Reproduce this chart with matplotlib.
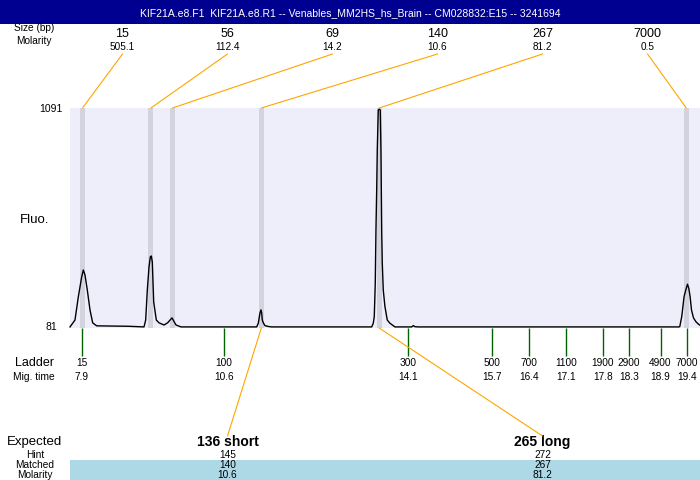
import matplotlib
matplotlib.use("Agg")
import matplotlib.pyplot as plt
from matplotlib.patches import ConnectionPatch, Rectangle
from matplotlib.transforms import blended_transform_factory

plt.rcParams['font.family'] = ['Liberation Sans', 'DejaVu Sans']

title = "KIF21A.e8.F1  KIF21A.e8.R1 -- Venables_MM2HS_hs_Brain -- CM028832:E15 -- 3241694"

# electropherogram trace (migration time, fluorescence)
trace_time = [7.672, 7.767, 7.830, 7.894, 7.925, 7.957, 8.001, 8.052, 8.103, 8.179, 8.78,
              9.079, 9.111, 9.142, 9.174, 9.199, 9.218, 9.237, 9.263, 9.313, 9.364, 9.459,
              9.528, 9.611, 9.687, 9.782,
              11.221, 11.252, 11.284, 11.303, 11.316, 11.328, 11.347, 11.379, 11.442, 11.506,
              13.408, 13.438, 13.457, 13.476, 13.489, 13.503, 13.514, 13.533, 13.552, 13.571,
              13.584, 13.598, 13.609, 13.628, 13.660, 13.704, 13.755, 13.851,
              14.168, 14.199, 14.231, 14.294,
              19.246, 19.265, 19.303, 19.347, 19.379, 19.412, 19.437, 19.462, 19.488, 19.526,
              19.570, 19.614, 19.65]
trace_fluo = [81, 113, 220, 313, 345, 322, 252, 160, 100, 86, 84,
              81, 113, 252, 359, 405, 410, 382, 197, 113, 100, 90,
              100, 123, 90, 81,
              81, 98, 146, 160, 146, 113, 100, 87, 83, 81,
              81, 98, 129, 283, 530, 716, 901, 1086, 1091, 1086,
              901, 530, 378, 252, 175, 113, 98, 81,
              81, 87, 82, 81,
              81, 82, 129, 221, 252, 279, 260, 221, 160, 123,
              106, 95, 89]

# called peaks
peak_size = [15, 56, 69, 140, 267, 7000]
peak_molarity = [505.1, 112.4, 14.2, 10.6, 81.2, 0.5]
peak_time = [7.91, 9.21, 9.62, 11.31, 13.55, 19.39]

# ladder
ladder_size = [15, 100, 300, 500, 700, 1100, 1900, 2900, 4900, 7000]
ladder_time = [7.9, 10.6, 14.1, 15.7, 16.4, 17.1, 17.8, 18.3, 18.9, 19.4]

# expected products
expected_name = ["136 short", "265 long"]
expected_hint = [145, 272]
matched_size = [140, 267]
matched_molarity = [10.6, 81.2]
matched_time = [11.31, 13.55]

fluo_ticks = [81, 1091]

fig = plt.figure(figsize=(7, 4.8), dpi=100)

# page layer in pixel units for the frame around the plot
page = fig.add_axes([0, 0, 1, 1])
page.set_xlim(0, 700)
page.set_ylim(480, 0)
page.axis('off')

ax = fig.add_axes([70 / 700, 1 - 328 / 480, 630 / 700, 220 / 480])
ax.set_facecolor('#eeeefb')
for sp in ax.spines.values():
    sp.set_visible(False)
ax.set_xlim(7.672, 19.65)
ax.set_ylim(76, 1096)
ax.set_xticks([])
ax.set_yticks([])

# header
page.add_patch(Rectangle((0, 0), 700, 24, color='#000090', lw=0))
page.text(350, 13, title, color='white', fontsize=7.5, ha='center', va='center')

# trace and peak bands
for t in peak_time:
    ax.axvspan(t - 0.048, t + 0.048, color='#d3d3df', lw=0, zorder=1)
ax.plot(trace_time, trace_fluo, color='black', lw=1, clip_on=False, zorder=3)

# y labels
ytr = blended_transform_factory(page.transData, ax.transData)
for v in fluo_ticks:
    page.text(51, v, str(v), transform=ytr, fontsize=7.5, ha='center', va='center')
page.text(35, 220, "Fluo.", fontsize=9.5, ha='center', va='center')

# ladder marks
xtr = blended_transform_factory(ax.transData, page.transData)
ax.vlines(ladder_time, 328, 356, transform=xtr, colors='#006400', lw=1, clip_on=False)
for s, t in zip(ladder_size, ladder_time):
    ax.text(t, 363, str(s), transform=xtr, fontsize=7.3, ha='center', va='center')
    ax.text(t, 376.5, f"{t:.1f}", transform=xtr, fontsize=7.3, ha='center', va='center')
page.text(34, 363, "Ladder", fontsize=9, ha='center', va='center')
page.text(34, 376.5, "Mig. time", fontsize=7.4, ha='center', va='center')

# peak labels on top
slot = blended_transform_factory(ax.transAxes, page.transData)
page.text(34, 28, "Size (bp)", fontsize=7.3, ha='center', va='center')
page.text(34, 40.5, "Molarity", fontsize=7.3, ha='center', va='center')
n = len(peak_size)
for i, (s, m, t) in enumerate(zip(peak_size, peak_molarity, peak_time)):
    xf = (i + 0.5) / n
    page.text(xf, 34, str(s), transform=slot, fontsize=9, ha='center', va='center')
    page.text(xf, 47.5, str(m), transform=slot, fontsize=7.2, ha='center', va='center')
    con = ConnectionPatch(xyA=(xf, 54), coordsA=slot, xyB=(t, 1.0),
                          coordsB=ax.get_xaxis_transform(), color='orange', lw=0.8)
    fig.add_artist(con)

# expected / matched table at the bottom
page.add_patch(Rectangle((70, 460), 630, 20, color='#add8e6', lw=0))
page.text(35, 442, "Expected", fontsize=9.5, ha='center', va='center')
page.text(35, 454.5, "Hint", fontsize=7.3, ha='center', va='center')
page.text(35, 465, "Matched", fontsize=7.3, ha='center', va='center')
page.text(35, 474.5, "Molarity", fontsize=7.3, ha='center', va='center')
n = len(expected_name)
for i in range(n):
    xf = (i + 0.5) / n
    page.text(xf, 442, expected_name[i], transform=slot, fontsize=10,
              fontweight='bold', ha='center', va='center')
    page.text(xf, 455, str(expected_hint[i]), transform=slot, fontsize=7.3, ha='center', va='center')
    page.text(xf, 465, str(matched_size[i]), transform=slot, fontsize=7.3, ha='center', va='center')
    page.text(xf, 474.5, str(matched_molarity[i]), transform=slot, fontsize=7.3, ha='center', va='center')
    con = ConnectionPatch(xyA=(matched_time[i], 0.0), coordsA=ax.get_xaxis_transform(),
                          xyB=(xf, 436), coordsB=slot, color='orange', lw=0.8)
    fig.add_artist(con)

fig.savefig("out.png", dpi=100)
